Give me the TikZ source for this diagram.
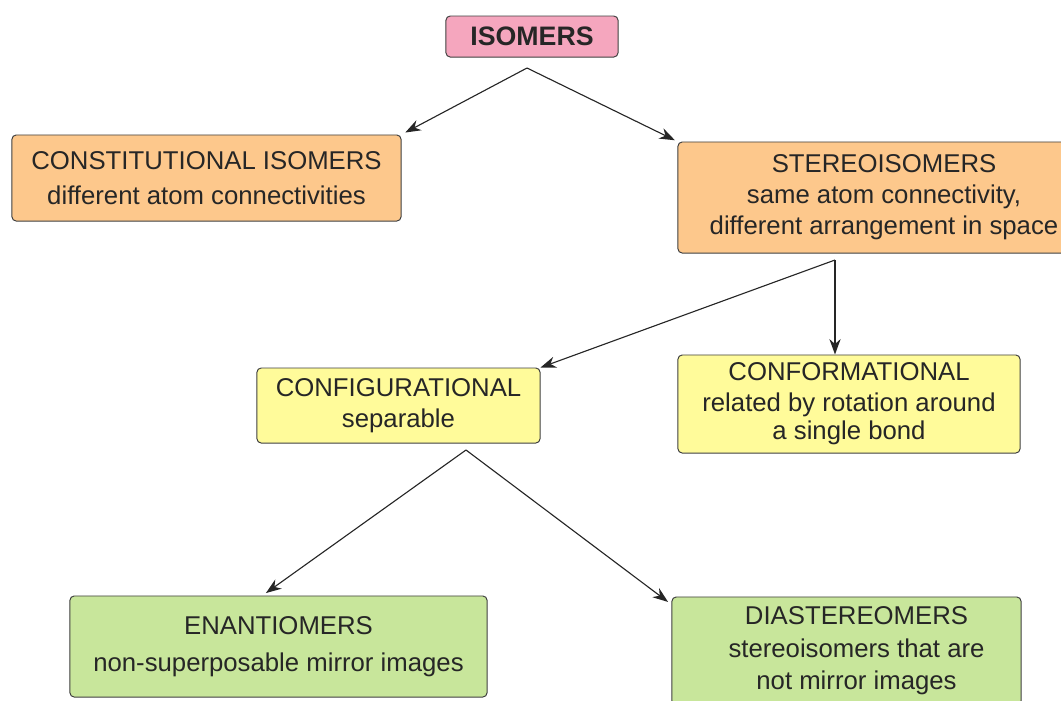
\documentclass[tikz,border=0pt]{standalone}
\usepackage{fontspec}
\setmainfont{Liberation Sans}
\usetikzlibrary{arrows.meta}

\definecolor{isopink}{RGB}{245,166,190}
\definecolor{isoorange}{RGB}{253,200,140}
\definecolor{isoyellow}{RGB}{255,251,154}
\definecolor{isogreen}{RGB}{200,230,155}

\begin{document}
\begin{tikzpicture}[
	x=0.025cm, y=-0.025cm,
	box/.style = {draw=black!75, line width=0.7pt, rounded corners=3pt,
		align=center, text=black!85, inner sep=0pt,
		font=\fontsize{18.3}{22}\selectfont},
	toplevel/.style = {box, fill=isopink, font=\fontsize{19}{22}\selectfont\bfseries},
	kind/.style = {box, fill=isoorange},
	sort/.style = {box, fill=isoyellow},
	leaf/.style = {box, fill=isogreen},
	link/.style = {-{Stealth[length=11pt,width=8pt]}, line width=0.8pt, black!85}
	]
	\useasboundingbox (0,0) rectangle (1061,700);

	\node [toplevel, minimum width=4.3cm, minimum height=1.025cm] (iso) at (532,36.5) {ISOMERS};

	\node [kind, minimum width=9.725cm, minimum height=2.15cm] (const) at (206.5,178)
		{CONSTITUTIONAL ISOMERS\hspace{0.3cm}\\[3pt]different atom connectivities\hspace{0.3cm}};
	\node [kind, minimum width=10.3cm, minimum height=2.775cm] (stereo) at (884,197.5)
		{STEREOISOMERS\\same atom connectivity,\\different arrangement in space};

	\node [sort, minimum width=7.075cm, minimum height=1.875cm] (config) at (398.5,405.5)
		{CONFIGURATIONAL\\separable};
	\node [sort, minimum width=8.55cm, minimum height=2.45cm] (conform) at (849,404)
		{CONFORMATIONAL\\related by rotation around\\[-2pt]a single bond};

	\node [leaf, minimum width=10.425cm, minimum height=2.525cm] (enant) at (278.5,646.5)
		{ENANTIOMERS\\[4pt]non-superposable mirror images};
	\node [leaf, minimum width=8.725cm, minimum height=2.7cm] (diast) at (846.5,651)
		{\hspace{0.5cm}DIASTEREOMERS\\[1pt]\hspace{0.5cm}stereoisomers that are\\[1pt]\hspace{0.5cm}not mirror images};

	\coordinate (isoS) at (527,68);
	\coordinate (stereoS) at (835,260);
	\coordinate (configS) at (466,450);

	\draw [link, shorten >=3pt] (isoS) -- (const.north east);
	\draw [link, shorten >=2pt] (isoS) -- (stereo.north west);
	\draw [link] (stereoS) -- (config.north east);
	\draw [link] (stereoS) -- (stereoS |- conform.north);
	\draw [link, shorten >=3pt] (configS) -- ([xshift=-0.4cm]enant.north);
	\draw [link, shorten >=3pt] (configS) -- ([yshift=-0.2cm]diast.north west);
\end{tikzpicture}
\end{document}
